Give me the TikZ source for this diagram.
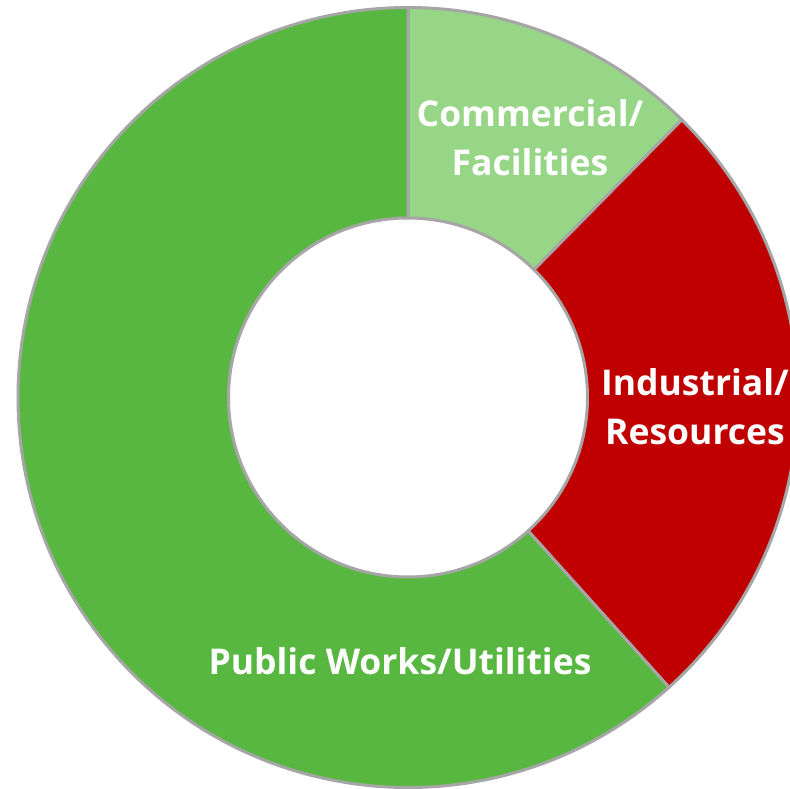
\documentclass[tikz,border=0pt]{standalone}
\usepackage{fontspec}
\setmainfont{Open Sans}
\definecolor{lightgreen}{HTML}{97D587}
\definecolor{midgreen}{HTML}{58B740}
\definecolor{darkred}{HTML}{C00000}
\definecolor{edgegray}{HTML}{A6A6A6}
\begin{document}
\begin{tikzpicture}[x=1pt,y=1pt]
\tikzset{
  seg/.style={draw=edgegray, line width=3pt, line join=round},
  lbl/.style={text=white, font=\fontsize{35.5}{49}\selectfont\bfseries, align=center, inner sep=0pt}
}
\useasboundingbox (0,0) rectangle (790,788);
\clip (0,0) rectangle (790,788);
\coordinate (c) at (408,390.5);
\def\R{390pt}
\def\r{179.5pt}
% Commercial/Facilities
\filldraw[seg, fill=lightgreen] ([shift={(90:\R)}]c) arc[start angle=90, end angle=45.4, radius=\R]
  -- ([shift={(45.4:\r)}]c) arc[start angle=45.4, end angle=90, radius=\r] -- cycle;
% Industrial/Resources
\filldraw[seg, fill=darkred] ([shift={(45.4:\R)}]c) arc[start angle=45.4, end angle=-48, radius=\R]
  -- ([shift={(-48:\r)}]c) arc[start angle=-48, end angle=45.4, radius=\r] -- cycle;
% Public Works/Utilities
\filldraw[seg, fill=midgreen] ([shift={(-48:\R)}]c) arc[start angle=-48, end angle=-270, radius=\R]
  -- ([shift={(90:\r)}]c) arc[start angle=90, end angle=312, radius=\r] -- cycle;
\node[lbl] (comm) at (530,650) {Commercial/\\Facilities};
\node[lbl] (ind) at (695,381) {Industrial/\\Resources};
\node[lbl] (pub) at (400,127) {Public Works/Utilities};
\end{tikzpicture}
\end{document}
